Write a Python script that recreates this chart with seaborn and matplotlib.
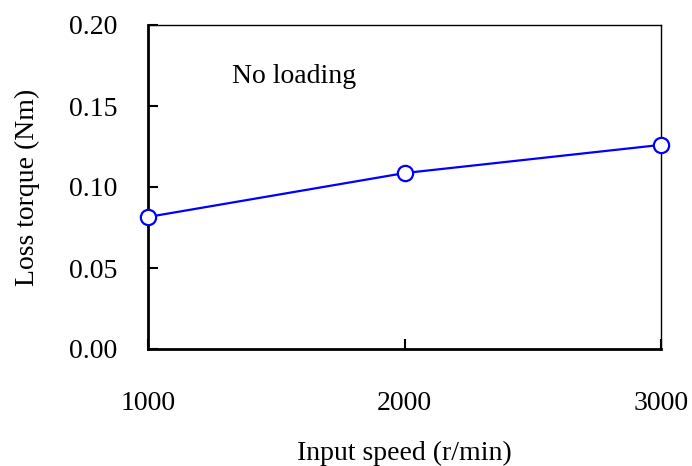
import matplotlib
matplotlib.use("Agg")
import matplotlib.pyplot as plt
import seaborn as sns
import pandas as pd

speed = [1000, 2000, 3000]
torque = [0.0815, 0.1086, 0.126]
y_ticks = [0.00, 0.05, 0.10, 0.15, 0.20]
x_ticks = [1000, 2000, 3000]

sns.set_style("white")
plt.rcParams['font.family'] = ['Liberation Serif', 'DejaVu Serif']
plt.rcParams['text.color'] = 'black'
plt.rcParams['axes.labelcolor'] = 'black'
plt.rcParams['xtick.color'] = 'black'
plt.rcParams['ytick.color'] = 'black'

df = pd.DataFrame({"speed": speed, "torque": torque})
fig = plt.figure(figsize=(6.92, 4.66), dpi=100)
ax = fig.add_axes([148/692, 117/466, 513/692, 324/466])
sns.lineplot(data=df, x="speed", y="torque", ax=ax, color="#0000ff", lw=1.6,
             marker="o", markersize=11, markerfacecolor="white",
             markeredgecolor="#0000ff", markeredgewidth=1.6, clip_on=False, zorder=5)
ax.set_xlim(1000, 3000)
ax.set_ylim(0, 0.20)
ax.set_xticks(x_ticks)
ax.set_yticks(y_ticks)
ax.set_yticklabels([f"{v:.2f}" for v in y_ticks])
ax.tick_params(axis='both', which='major', bottom=True, left=True, direction='in',
               labelsize=20, length=7, width=1.5, color='black', labelcolor='black')
ax.tick_params(axis='x', pad=30)
ax.tick_params(axis='y', pad=22)
for s in ['left', 'bottom']:
    ax.spines[s].set_linewidth(2)
    ax.spines[s].set_color('black')
for s in ['top', 'right']:
    ax.spines[s].set_linewidth(1)
    ax.spines[s].set_color('black')
ax.set_xlabel("Input speed (r/min)", fontsize=20, labelpad=18)
ax.set_ylabel("Loss torque (Nm)", fontsize=20)
ax.yaxis.set_label_coords(-0.21, 0.5)
ax.text(1327, 0.168, "No loading", fontsize=20, ha='left', va='center', color='black')
fig.savefig("out.png", dpi=100)
